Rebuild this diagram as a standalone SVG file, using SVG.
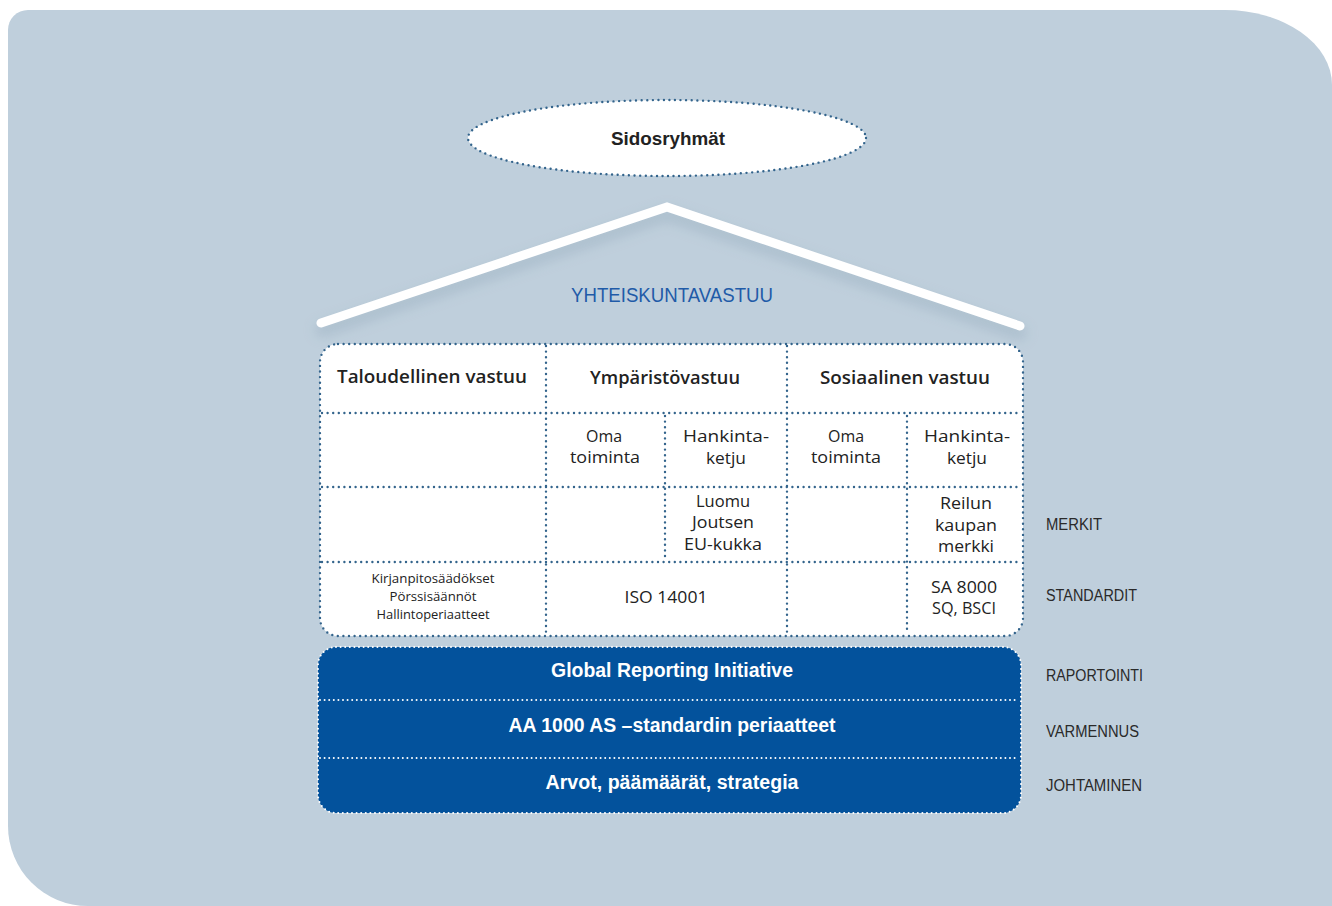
<svg xmlns="http://www.w3.org/2000/svg" width="1332" height="906" viewBox="0 0 1332 906">
<defs>
<style>
.dot{fill:none;stroke:#33648c;stroke-width:2.4;stroke-dasharray:0 5.6;stroke-linecap:round}
.wdot{fill:none;stroke:#ffffff;stroke-width:2;stroke-dasharray:0 4.6;stroke-linecap:round}
.hd{font-family:"Open Sans","Liberation Sans",sans-serif;font-size:18px;font-weight:600;fill:#222;text-anchor:middle}
.cell{font-family:"Open Sans","Liberation Sans",sans-serif;font-size:16px;fill:#222;text-anchor:middle}
.sm{font-family:"Open Sans","Liberation Sans",sans-serif;font-size:13px;fill:#222;text-anchor:middle}
.lab{font-family:"Liberation Sans",sans-serif;font-size:16px;fill:#2a2a2a}
.wt{font-family:"Liberation Sans",sans-serif;font-size:20px;font-weight:bold;fill:#ffffff;text-anchor:middle}
</style>
<filter id="blur" x="-10%" y="-50%" width="120%" height="200%"><feGaussianBlur stdDeviation="6"/></filter>
</defs>
<path d="M28,10 H1225 A107,75 0 0 1 1332,85 V906 H88 A80,80 0 0 1 8,826 V30 A20,20 0 0 1 28,10 Z" fill="#bfcfdc"/>
<g id="roof">
<polyline points="322,330 667,214 1020,333" fill="none" stroke="#a9bccb" stroke-width="14" stroke-linecap="round" stroke-linejoin="round" filter="url(#blur)" opacity="0.8"/>
<polyline points="321,323 667,207 1020,326" fill="none" stroke="#ffffff" stroke-width="9" stroke-linecap="round" stroke-linejoin="miter"/>
<text x="672" y="302" font-family="Liberation Sans,sans-serif" font-size="21" fill="#1f5ba8" text-anchor="middle" textLength="202" lengthAdjust="spacingAndGlyphs">YHTEISKUNTAVASTUU</text>
</g>
<g id="sidosryhmat">
<ellipse cx="667" cy="138" rx="199" ry="38" fill="#ffffff"/>
<ellipse cx="667" cy="138" rx="199" ry="38" class="dot"/>
<text x="668" y="145" font-family="Liberation Sans,sans-serif" font-size="19" font-weight="bold" fill="#222" text-anchor="middle" textLength="114" lengthAdjust="spacingAndGlyphs">Sidosryhmät</text>
</g>
<g id="table">
<rect x="320" y="344" width="703" height="292" rx="18" fill="#ffffff"/>
<rect x="320" y="344" width="703" height="292" rx="18" class="dot"/>
<line x1="546" y1="346" x2="546" y2="634" class="dot"/>
<line x1="787" y1="346" x2="787" y2="634" class="dot"/>
<line x1="665" y1="416" x2="665" y2="560" class="dot"/>
<line x1="907" y1="416" x2="907" y2="634" class="dot"/>
<line x1="322" y1="413" x2="1021" y2="413" class="dot"/>
<line x1="322" y1="487" x2="1021" y2="487" class="dot"/>
<line x1="322" y1="562" x2="1021" y2="562" class="dot"/>
<text x="432" y="383" class="hd" textLength="190" lengthAdjust="spacingAndGlyphs">Taloudellinen vastuu</text>
<text x="665" y="384" class="hd" textLength="150" lengthAdjust="spacingAndGlyphs">Ympäristövastuu</text>
<text x="905" y="384" class="hd" textLength="170" lengthAdjust="spacingAndGlyphs">Sosiaalinen vastuu</text>
<text x="604" y="442" class="cell" textLength="36" lengthAdjust="spacingAndGlyphs">Oma</text>
<text x="605" y="463" class="cell" textLength="70" lengthAdjust="spacingAndGlyphs">toiminta</text>
<text x="726" y="442" class="cell" textLength="86" lengthAdjust="spacingAndGlyphs">Hankinta-</text>
<text x="726" y="464" class="cell" textLength="40" lengthAdjust="spacingAndGlyphs">ketju</text>
<text x="846" y="442" class="cell" textLength="36" lengthAdjust="spacingAndGlyphs">Oma</text>
<text x="846" y="463" class="cell" textLength="70" lengthAdjust="spacingAndGlyphs">toiminta</text>
<text x="967" y="442" class="cell" textLength="86" lengthAdjust="spacingAndGlyphs">Hankinta-</text>
<text x="967" y="464" class="cell" textLength="40" lengthAdjust="spacingAndGlyphs">ketju</text>
<text x="723" y="507" class="cell" textLength="54" lengthAdjust="spacingAndGlyphs">Luomu</text>
<text x="723" y="528" class="cell" textLength="62" lengthAdjust="spacingAndGlyphs">Joutsen</text>
<text x="723" y="550" class="cell" textLength="78" lengthAdjust="spacingAndGlyphs">EU-kukka</text>
<text x="966" y="509" class="cell" textLength="52" lengthAdjust="spacingAndGlyphs">Reilun</text>
<text x="966" y="531" class="cell" textLength="62" lengthAdjust="spacingAndGlyphs">kaupan</text>
<text x="966" y="552" class="cell" textLength="56" lengthAdjust="spacingAndGlyphs">merkki</text>
<text x="433" y="583" class="sm" textLength="123" lengthAdjust="spacingAndGlyphs">Kirjanpitosäädökset</text>
<text x="433" y="601" class="sm" textLength="87" lengthAdjust="spacingAndGlyphs">Pörssisäännöt</text>
<text x="433" y="619" class="sm" textLength="113" lengthAdjust="spacingAndGlyphs">Hallintoperiaatteet</text>
<text x="666" y="603" class="cell" textLength="83" lengthAdjust="spacingAndGlyphs">ISO 14001</text>
<text x="964" y="593" class="cell" textLength="66" lengthAdjust="spacingAndGlyphs">SA 8000</text>
<text x="964" y="614" class="cell" textLength="64" lengthAdjust="spacingAndGlyphs">SQ, BSCI</text>
</g>
<g id="base">
<rect x="318" y="647" width="703" height="166" rx="18" fill="#03529c"/>
<rect x="318" y="647" width="703" height="166" rx="18" class="wdot"/>
<line x1="320" y1="700" x2="1019" y2="700" class="wdot"/>
<line x1="320" y1="758" x2="1019" y2="758" class="wdot"/>
<text x="672" y="677" class="wt" textLength="242" lengthAdjust="spacingAndGlyphs">Global Reporting Initiative</text>
<text x="672" y="732" class="wt" textLength="327" lengthAdjust="spacingAndGlyphs">AA 1000 AS –standardin periaatteet</text>
<text x="672" y="789" class="wt" textLength="253" lengthAdjust="spacingAndGlyphs">Arvot, päämäärät, strategia</text>
</g>
<g id="labels">
<text x="1046" y="530" class="lab" textLength="56" lengthAdjust="spacingAndGlyphs">MERKIT</text>
<text x="1046" y="601" class="lab" textLength="91" lengthAdjust="spacingAndGlyphs">STANDARDIT</text>
<text x="1046" y="681" class="lab" textLength="97" lengthAdjust="spacingAndGlyphs">RAPORTOINTI</text>
<text x="1046" y="737" class="lab" textLength="93" lengthAdjust="spacingAndGlyphs">VARMENNUS</text>
<text x="1046" y="791" class="lab" textLength="96" lengthAdjust="spacingAndGlyphs">JOHTAMINEN</text>
</g>
<g id="connectors"></g>
</svg>
